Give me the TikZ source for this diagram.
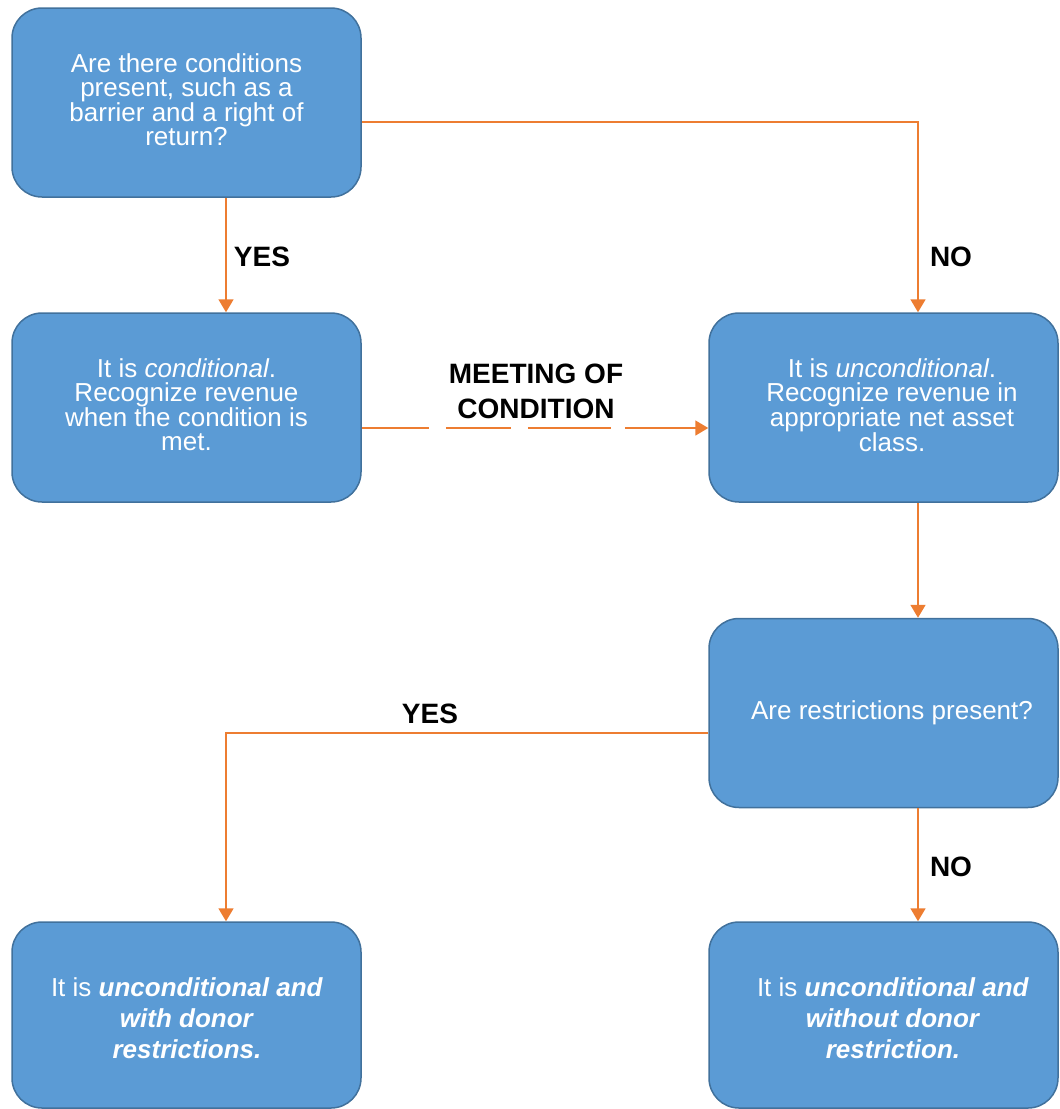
\documentclass[tikz,border=0pt]{standalone}
\usepackage{fontspec}
\setmainfont{Liberation Sans}
\usetikzlibrary{arrows.meta}
\definecolor{boxfill}{HTML}{5B9BD5}
\definecolor{boxline}{HTML}{41719C}
\definecolor{arrc}{HTML}{ED7D31}
\begin{document}
\begin{tikzpicture}[x=1pt,y=-1pt,
  box/.style={draw=boxline, line width=1.5pt, fill=boxfill, rounded corners=30pt,
    minimum width=349pt, minimum height=189pt, inner sep=0pt},
  txt/.style={text=white, align=center, inner sep=0pt, font=\fontsize{26}{24}\selectfont},
  txtb/.style={text=white, align=center, inner sep=0pt, font=\fontsize{26}{31}\selectfont},
  lbl/.style={text=black, align=center, inner sep=0pt, font=\fontsize{28}{35}\selectfont\bfseries},
  arr/.style={draw=arrc, line width=1.8pt, -{Triangle[width=15pt,length=13pt]}}]
\useasboundingbox (0,0) rectangle (1060,1109);
% boxes
\node[box] (b1) at (186.5,102.5) {};
\node[box] (b2) at (186.5,407.5) {};
\node[box] (b3) at (883.5,407.5) {};
\node[box] (b4) at (883.5,713) {};
\node[box, minimum height=186pt] (b5) at (186.5,1015) {};
\node[box, minimum height=186pt] (b6) at (883.5,1015) {};
% texts
\node[txt] (t1) at (186.5,100) {Are there conditions\\present, such as a\\barrier and a right of\\return?};
\node[txt] (t2) at (186.5,405) {It is \textit{conditional}.\\Recognize revenue\\when the condition is\\met.};
\node[txt] (t3) at (892,405) {It is \textit{unconditional}.\\Recognize revenue in\\appropriate net asset\\class.};
\node[txt] (t4) at (892,713) {Are restrictions present?};
\node[txtb] (t5) at (187,1018) {It is \textbf{\textit{unconditional and}}\\\textbf{\textit{with donor}}\\\textbf{\textit{restrictions.}}};
\node[txtb] (t6) at (893,1018) {It is \textbf{\textit{unconditional and}}\\\textbf{\textit{without donor}}\\\textbf{\textit{restriction.}}};
% helper coordinates
\coordinate (xl) at (226,0);
\coordinate (xr) at (918,0);
\coordinate (y1) at (0,122);
\coordinate (y2) at (0,428);
\coordinate (y4) at (0,733);
% connectors
\draw[arr] (b1.south -| xl) -- (b2.north -| xl);
\draw[arr] (b1.east |- y1) -| (b3.north -| xr);
\draw[arr, dash pattern=on 67pt off 17pt on 65pt off 17pt on 83pt off 14pt on 200pt] (b2.east |- y2) -- (b3.west |- y2);
\draw[arr] (b3.south -| xr) -- (b4.north -| xr);
\draw[arr] (b4.west |- y4) -| (b5.north -| xl);
\draw[arr] (b4.south -| xr) -- (b6.north -| xr);
% labels
\node[lbl] (l1) at (262,257) {YES};
\node[lbl] (l2) at (951,257) {NO};
\node[lbl] (l3) at (536,391) {MEETING OF\\CONDITION};
\node[lbl] (l4) at (430,714) {YES};
\node[lbl] (l5) at (951,867) {NO};
\end{tikzpicture}
\end{document}
